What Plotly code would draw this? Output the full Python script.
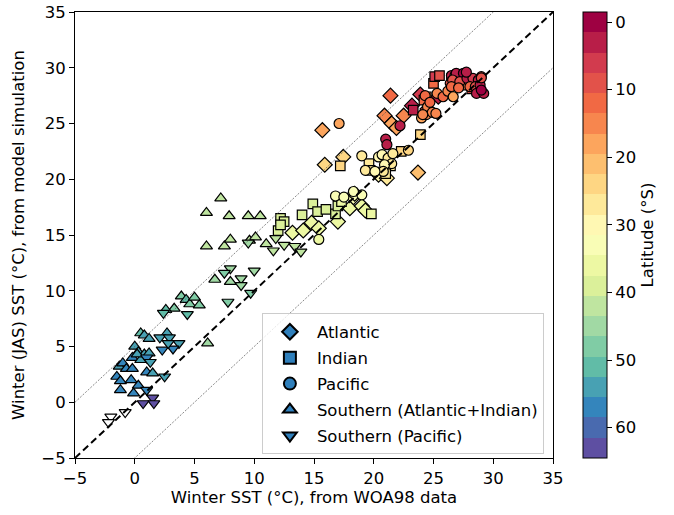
import numpy as np
import plotly.graph_objects as go

# ---------------- data (x: WOA98 SST, y: model SST, lat: latitude °S) ----------------
atl_x = [21.4, 15.7, 15.9, 17.45, 23.7, 20.4, 21.1, 20.9, 21.5, 22.5, 21.9, 23.2, 23.9, 25.4,
         13.2, 14.1, 14.8, 15.4, 17.0, 18.0, 18.3, 19.0, 19.3, 18.4, 24.5]
atl_y = [27.5, 24.4, 21.3, 22.0, 20.6, 20.4, 20.1, 25.7, 25.0, 25.7, 24.6, 26.6, 27.6, 27.4,
         15.2, 15.4, 16.1, 15.6, 16.2, 17.4, 18.4, 17.6, 17.2, 18.7, 26.3]
atl_lat = [12, 17, 23, 23, 21, 29, 27, 15, 17, 16, 18, 2, 5, 3,
           37, 37, 37, 36, 35, 35, 34, 36, 35, 33, 8]

ind_x = [17.2, 19.6, 19.7, 21.4, 22.3, 23.9, 25.0, 25.1, 25.5, 24.4, 24.2, 23.3, 27.8, 28.2, 26.5,
         14.0, 14.9, 15.3, 16.0, 16.8, 17.0, 19.8, 12.2, 12.5, 12.0, 12.2, 17.3, 21.0]
ind_y = [21.2, 21.4, 20.8, 21.2, 22.5, 24.0, 28.6, 29.2, 29.3, 27.4, 27.1, 26.2, 28.45, 28.1, 29.0,
         16.8, 17.8, 17.1, 17.3, 16.9, 17.6, 16.9, 16.5, 16.2, 15.4, 15.9, 18.0, 20.5]
ind_lat = [24, 27, 28, 26, 25, 24, 12, 5, 10, 15, 12, 4, 14, 8, 9,
           38, 39, 39, 38, 38, 39, 36, 40, 40, 38, 39, 37, 28]

pac_x = [17.1, 19.0, 20.4, 20.7, 21.2, 21.5, 20.9, 20.8, 19.3, 20.1, 21.6, 22.9,
         21.0, 21.1, 22.2, 24.0, 24.4, 24.5, 24.9,
         16.8, 17.5, 19.0, 18.3, 15.4,
         26.5, 26.8, 26.4, 26.9, 25.3, 25.8, 26.2, 26.9, 27.5, 26.6, 27.2, 27.8, 26.5, 27.1,
         26.65, 28.3, 28.75, 29.0, 28.05, 28.5, 28.9, 28.6, 29.2, 29.0, 27.75, 29.0,
         24.3, 24.7, 25.2, 24.1]
pac_y = [25.0, 22.1, 22.0, 22.2, 21.9, 21.4, 21.3, 20.7, 20.8, 20.7, 22.3, 22.6,
         23.6, 23.1, 24.8, 25.5, 25.8, 26.5, 26.0,
         18.5, 18.4, 18.6, 18.9, 14.6,
         29.3, 29.3, 28.6, 28.6, 27.7, 27.4, 27.9, 29.5, 29.5, 28.9, 28.75, 29.05, 28.3, 28.2,
         27.4, 29.05, 28.9, 29.2, 28.3, 28.3, 28.45, 27.7, 27.7, 28.0, 29.6, 29.1,
         27.5, 26.9, 25.9, 25.8]
pac_lat = [18, 27, 29, 30, 28, 26, 30, 28, 28, 29, 27, 24,
           2, 3, 2, 18, 16, 14, 15,
           33, 32, 32, 33, 36,
           4, 8, 10, 12, 15, 12, 14, 2, 1, 10, 9, 2, 11, 12,
           18, 7, 4, 9, 11, 8, 3, 2, 2, 1, 2, 8,
           12, 12, 14, 14]

sai_x = [7.2, 6.0, 7.9, 9.5, 10.5, 6.0, 7.5, 8.0, 9.6, 10.1, 11.0, 6.7, 8.0, 6.1,
         3.9, 4.3, 4.6, 5.0, 5.4, 3.3, 2.6,
         0.5, 0.8, 1.2, 0.0, 0.3, 0.8, 1.2, -0.2, 0.5, -1.3, -1.0, -0.7, -0.2, 1.0, 1.5,
         -1.5, -1.2, -0.3, 0.3, -1.2, -0.1, 2.7, 0.2]
sai_y = [18.3, 17.0, 16.7, 16.7, 16.7, 14.0, 14.0, 14.6, 14.5, 14.8, 14.2, 11.0, 10.8, 5.3,
         9.5, 9.2, 8.8, 9.4, 8.7, 8.4, 8.3,
         6.2, 6.0, 5.7, 5.0, 4.5, 4.3, 4.4, 4.0, 3.8, 3.2, 3.5, 3.0, 3.0, 2.7, 2.6,
         2.3, 1.9, 2.0, 1.5, 1.1, 0.8, 6.2, 4.3]
sai_lat = [42, 42, 42, 42, 42, 43, 43, 43, 42, 42, 41, 46, 45, 45,
           48, 50, 49, 48, 47, 48, 50,
           52, 53, 54, 55, 55, 54, 55, 56, 54, 55, 56, 56, 57, 56, 54,
           56, 57, 56, 57, 56, 57, 53, 55]

sp_x = [2.4, 4.4, 8.0, 7.5, 8.9, 8.9, 10.0, 9.7, 7.8, 9.5, 11.6, 11.8, 12.5, 13.4, 13.9,
        2.1, 2.9, 3.7, 3.2, 2.3, 2.8, 1.0, 1.3, 2.5, 1.0, 1.5, 1.6, 0.7]
sp_y = [8.0, 7.9, 12.0, 11.6, 11.1, 10.5, 11.8, 9.8, 9.0, 14.3, 13.6, 14.7, 14.1, 14.0, 13.5,
        5.8, 5.8, 5.3, 4.8, 4.7, 5.3, 4.0, 3.6, 2.3, 1.1, 0.4, -0.1, -0.1]
sp_lat = [52, 51, 46, 47, 46, 46, 45, 47, 47, 44, 42, 42, 41, 41, 41,
          54, 55, 55, 56, 56, 55, 56, 55, 55, 57, 62, 62, 63]

# Southern (Pacific) points without latitude colour (drawn unfilled)
spn_x = [-0.8, -2.0, -2.2]
spn_y = [-0.9, -1.3, -1.8]

axis_ticks = [-5, 0, 5, 10, 15, 20, 25, 30, 35]
lat_ticks = [0, 10, 20, 30, 40, 50, 60]
ref_x = [-5, 35]
ref_offsets = [5, -5]

# ---------------- discrete Spectral colour scale ----------------
spectral_hex = ["#9e0142", "#d53e4f", "#f46d43", "#fdae61", "#fee08b", "#ffffbf",
                "#e6f598", "#abdda4", "#66c2a5", "#3288bd", "#5e4fa2"]


def spectral(t):
    rgb = [tuple(int(h[i:i + 2], 16) for i in (1, 3, 5)) for h in spectral_hex]
    pos = t * (len(rgb) - 1)
    i = min(int(np.floor(pos)), len(rgb) - 2)
    f = pos - i
    c = [round(rgb[i][k] + (rgb[i + 1][k] - rgb[i][k]) * f) for k in range(3)]
    return f"rgb({c[0]},{c[1]},{c[2]})"


nb = 22
top_to_bottom = [spectral(i / (nb - 1)) for i in range(nb)]
bottom_to_top = top_to_bottom[::-1]
cscale = []
for j, col in enumerate(bottom_to_top):
    cscale.append([j / nb, col])
    cscale.append([(j + 1) / nb, col])

lat_min, lat_max = -1.5, 64.5

font = "DejaVu Sans"
FS = 16.5
fig = go.Figure()

edge = dict(color="black", width=1.2)


def add_series(x, y, lat, symbol, size):
    fig.add_trace(go.Scatter(
        x=x, y=y, mode="markers", showlegend=False, hoverinfo="x+y",
        marker=dict(symbol=symbol, size=size, color=[-v for v in lat],
                    coloraxis="coloraxis", line=edge)))


add_series(atl_x, atl_y, atl_lat, "diamond", 11.5)
add_series(ind_x, ind_y, ind_lat, "square", 9.5)
add_series(pac_x, pac_y, pac_lat, "circle", 10)
add_series(sai_x, sai_y, sai_lat, "triangle-up", 10.5)
add_series(sp_x, sp_y, sp_lat, "triangle-down", 10.5)
fig.add_trace(go.Scatter(x=spn_x, y=spn_y, mode="markers", showlegend=False,
                         marker=dict(symbol="triangle-down", size=10.5, color="white", line=edge)))

# reference lines
fig.add_trace(go.Scatter(x=ref_x, y=ref_x, mode="lines", showlegend=False, hoverinfo="skip",
                         line=dict(color="black", width=2, dash="7px,4px")))
for off in ref_offsets:
    fig.add_trace(go.Scatter(x=ref_x, y=[v + off for v in ref_x], mode="lines", showlegend=False,
                             hoverinfo="skip", line=dict(color="#555555", width=0.7, dash="2px,1.5px")))

# legend entries
legend_blue = "#2f7fbb"
names = ["Atlantic", "Indian", "Pacific", "Southern (Atlantic+Indian)", "Southern (Pacific)"]
symbols = ["diamond", "square", "circle", "triangle-up", "triangle-down"]
lsizes = [9, 7, 8, 8, 8]
for i, (n, s, sz) in enumerate(zip(names, symbols, lsizes)):
    fig.add_trace(go.Scatter(x=[None], y=[None], mode="markers", name=n, legendgroup=f"g{i}",
                             marker=dict(symbol=s, size=sz, color=legend_blue, line=edge)))

axis_common = dict(range=[-5, 35], tickvals=axis_ticks, showgrid=False, zeroline=False,
                   showline=True, linecolor="black", linewidth=1, mirror=True,
                   ticks="outside", ticklen=5, tickwidth=1, tickcolor="black",
                   tickfont=dict(size=FS, color="black"))

fig.update_layout(
    width=674, height=515,
    margin=dict(l=75, r=121, t=12, b=57, autoexpand=False),
    paper_bgcolor="white", plot_bgcolor="white",
    font=dict(family=font, size=FS, color="black"),
    xaxis=dict(**axis_common, title=dict(text="Winter SST (°C), from WOA98 data",
                                         font=dict(size=FS), standoff=2)),
    yaxis=dict(**axis_common, title=dict(text="Winter (JAS) SST (°C), from model simulation",
                                         font=dict(size=FS), standoff=12)),
    coloraxis=dict(
        colorscale=cscale, cmin=-lat_max, cmax=-lat_min,
        colorbar=dict(
            x=1.0628, xanchor="left", xpad=0, y=0.5, yanchor="middle", ypad=0,
            len=1.0, lenmode="fraction",
            thickness=24, outlinewidth=1, outlinecolor="black",
            tickvals=[-v for v in lat_ticks], ticktext=[str(v) for v in lat_ticks],
            ticks="outside", ticklen=5, tickcolor="black", tickfont=dict(size=FS),
            title=dict(text="Latitude (°S)", side="right", font=dict(size=FS)),
        ),
    ),
    legend=dict(x=0.391, y=0.324, xanchor="left", yanchor="top",
                bgcolor="rgba(255,255,255,0.8)", bordercolor="#cccccc", borderwidth=1,
                font=dict(size=FS), tracegroupgap=1.5, itemsizing="constant", itemwidth=44),
)

fig.write_html("out.html", config={"displayModeBar": False},
               post_script="document.body.style.margin='0';document.body.style.overflow='hidden';")
